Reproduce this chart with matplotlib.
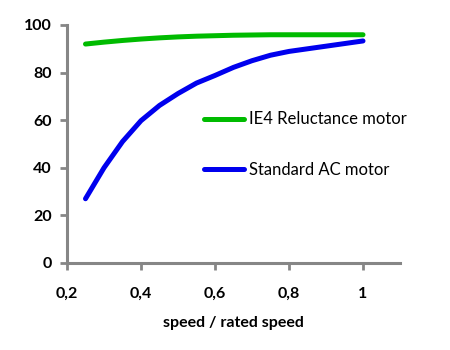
import matplotlib
matplotlib.use("Agg")
import matplotlib.pyplot as plt

speed = [0.25, 0.3, 0.35, 0.4, 0.45, 0.5, 0.55, 0.6, 0.65, 0.7, 0.75, 0.8, 0.85, 0.9, 0.95, 1.0]
ie4 = [92.0, 92.8, 93.5, 94.1, 94.6, 95.0, 95.3, 95.5, 95.7, 95.8, 95.9, 95.9, 95.9, 95.9, 95.9, 95.9]
std_ac = [27.0, 40.0, 51.0, 59.8, 66.2, 71.2, 75.6, 78.8, 82.2, 85.0, 87.3, 88.9, 90.0, 91.1, 92.2, 93.3]
series_labels = ["IE4 Reluctance motor", "Standard AC motor"]
xticks = [0.2, 0.4, 0.6, 0.8, 1.0]
xtick_labels = ["0,2", "0,4", "0,6", "0,8", "1"]
yticks = [0, 20, 40, 60, 80, 100]
xlabel = "speed / rated speed"

plt.rcParams['font.family'] = ['Lato', 'DejaVu Sans']

fig = plt.figure(figsize=(4.5, 3.5), dpi=100)
ax = fig.add_axes([67/450, 1-263/350, 333/450, 238/350])

ax.plot(speed, ie4, color="#00bb00", lw=3.6, solid_capstyle="round",
        solid_joinstyle="round", label=series_labels[0])
ax.plot(speed, std_ac, color="#0000ee", lw=3.6, solid_capstyle="round",
        solid_joinstyle="round", label=series_labels[1])

ax.set_xlim(0.2, 1.1)
ax.set_ylim(0, 100)
ax.set_xticks(xticks)
ax.set_xticklabels(xtick_labels)
ax.set_yticks(yticks)
for s in ["top", "right"]:
    ax.spines[s].set_visible(False)
for s in ["left", "bottom"]:
    ax.spines[s].set_color("#868686")
    ax.spines[s].set_linewidth(2.2)
ax.tick_params(axis="both", direction="out", length=5, width=2, color="#868686",
               labelsize=11.5, labelcolor="black", pad=6)
for lab in ax.get_xticklabels() + ax.get_yticklabels():
    lab.set_fontweight("bold")
ax.tick_params(axis="x", pad=12)
ax.set_xlabel(xlabel, fontsize=11.5, fontweight="bold", labelpad=11)

leg = ax.legend(loc="upper left", bbox_to_anchor=(0.39, 0.665), frameon=False,
                handlelength=2.4, handletextpad=0.35, labelspacing=2.05, fontsize=12,
                borderaxespad=0)

fig.savefig("out.png", dpi=100)
